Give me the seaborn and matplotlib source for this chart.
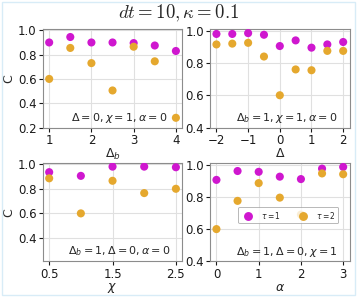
import numpy as np
import pandas as pd
import seaborn as sns
import matplotlib.pyplot as plt
from matplotlib.patches import Rectangle

# veriler
db_vals = [1, 1.5, 2, 2.5, 3, 3.5, 4]
db_tau1 = [0.90, 0.945, 0.90, 0.90, 0.895, 0.875, 0.83]
db_tau2 = [0.60, 0.855, 0.73, 0.505, 0.865, 0.745, 0.28]

d_vals = [-2, -1.5, -1, -0.5, 0, 0.5, 1, 1.5, 2]
d_tau1 = [0.98, 0.98, 0.985, 0.975, 0.905, 0.94, 0.895, 0.915, 0.93]
d_tau2 = [0.915, 0.92, 0.925, 0.84, 0.60, 0.76, 0.755, 0.875, 0.875]

chi_vals = [0.5, 1, 1.5, 2, 2.5]
chi_tau1 = [0.935, 0.905, 0.98, 0.98, 0.975]
chi_tau2 = [0.885, 0.60, 0.865, 0.765, 0.80]

alpha_vals = [0, 0.5, 1, 1.5, 2, 2.5, 3]
alpha_tau1 = [0.905, 0.96, 0.955, 0.925, 0.91, 0.975, 0.985]
alpha_tau2 = [0.60, 0.775, 0.885, 0.795, 0.69, 0.945, 0.94]

tau_labels = [r'$\tau = 1$', r'$\tau = 2$']
colors = ['#cf17cf', '#e5a82e']

sns.set_theme(style="whitegrid")
plt.rcParams.update({
    'axes.edgecolor': '0.55',
    'axes.linewidth': 0.8,
    'grid.color': '0.88',
    'grid.linewidth': 0.8,
    'xtick.bottom': True,
    'ytick.left': True,
    'xtick.color': '0.1',
    'ytick.color': '0.1',
    'xtick.major.size': 3,
    'ytick.major.size': 3,
    'xtick.major.width': 0.8,
    'ytick.major.width': 0.8,
    'xtick.major.pad': 1.5,
    'ytick.major.pad': 1.5,
    'xtick.labelsize': 8.5,
    'ytick.labelsize': 8.5,
})
plt.rcParams['font.family'] = ['DejaVu Sans']


def make_df(x, y1, y2):
    return pd.DataFrame({
        'x': list(x) + list(x),
        'C': list(y1) + list(y2),
        'tau': [tau_labels[0]] * len(x) + [tau_labels[1]] * len(x),
    })


panels = [
    (make_df(db_vals, db_tau1, db_tau2), r'$\Delta_b$', r'$\Delta = 0, \chi = 1, \alpha = 0$',
     (0.2, 1.01), [0.2, 0.4, 0.6, 0.8, 1.0], [1, 2, 3, 4]),
    (make_df(d_vals, d_tau1, d_tau2), r'$\Delta$', r'$\Delta_b = 1, \chi = 1, \alpha = 0$',
     (0.4, 1.01), [0.4, 0.6, 0.8, 1.0], [-2, -1, 0, 1, 2]),
    (make_df(chi_vals, chi_tau1, chi_tau2), r'$\chi$', r'$\Delta_b = 1, \Delta = 0, \alpha = 0$',
     (0.21, 1.01), [0.4, 0.6, 0.8, 1.0], [0.5, 1.5, 2.5]),
    (make_df(alpha_vals, alpha_tau1, alpha_tau2), r'$\alpha$', r'$\Delta_b = 1, \Delta = 0, \chi = 1$',
     (0.4, 1.01), [0.4, 0.6, 0.8, 1.0], [0, 1, 2, 3]),
]

fig, axes = plt.subplots(2, 2, figsize=(3.57, 2.97), dpi=100)
plt.subplots_adjust(left=0.12, right=0.979, top=0.902, bottom=0.12, wspace=0.2, hspace=0.36)

for i, (ax, (df, xl, note, ylim, yt, xt)) in enumerate(zip(axes.flat, panels)):
    sns.scatterplot(data=df, x='x', y='C', hue='tau', palette=colors, s=34,
                    edgecolor='none', ax=ax, legend=(i == 3), zorder=3)
    ax.set_ylim(*ylim)
    ax.set_yticks(yt)
    ax.set_xticks(xt)
    ax.set_xlabel(xl, fontsize=9, labelpad=0)
    if i % 2 == 0:
        ax.set_ylabel('C', fontsize=9, labelpad=2)
    else:
        ax.set_ylabel('')
    ax.text(0.55, 0.1, note, transform=ax.transAxes, ha='center', va='center', fontsize=8)

leg = axes[1, 1].legend(loc='center', bbox_to_anchor=(0.56, 0.47), ncol=2, fontsize=5.5,
                        frameon=True, handletextpad=0.6, columnspacing=2.0,
                        borderpad=0.35, markerscale=1.1)
leg.get_frame().set_edgecolor('0.6')
leg.get_frame().set_linewidth(0.6)

fig.suptitle(r'$dt = 10, \kappa = 0.1$', y=0.99, fontsize=13.5, math_fontfamily='cm')

# kenar çerçevesi
fig.patches.append(Rectangle((0.006, 0.008), 0.988, 0.986, transform=fig.transFigure,
                             fill=False, edgecolor='#d8ecf7', linewidth=1.0))

plt.savefig('out.png', dpi=100)
